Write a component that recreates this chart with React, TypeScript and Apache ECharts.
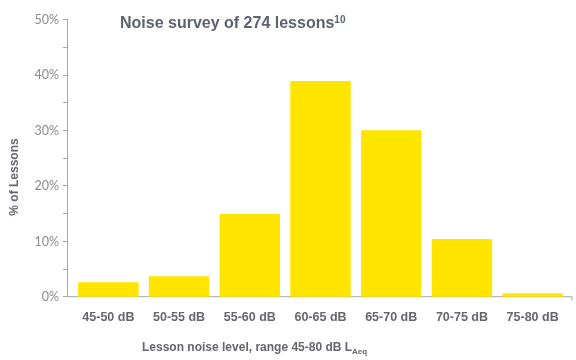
import React, { useEffect, useRef } from "react";
import * as echarts from "echarts";

const categories = ["45-50 dB", "50-55 dB", "55-60 dB", "60-65 dB", "65-70 dB", "70-75 dB", "75-80 dB"];
const percentLessons = [2.6, 3.7, 14.9, 38.9, 30.0, 10.4, 0.6];
const yTicks = [0, 10, 20, 30, 40, 50];

export default function App() {
  const ref = useRef<HTMLDivElement>(null);
  useEffect(() => {
    if (!ref.current) return;
    const chart = echarts.init(ref.current, null, { renderer: "svg" });
    const axisGrey = "#a8a8a8";
    const textGrey = "#65666e";
    chart.setOption({
      animation: false,
      title: {
        text: "{m|Noise survey of 274 lessons}{s|10}",
        left: 115,
        top: 9,
        textStyle: {
          rich: {
            m: { fontFamily: "Liberation Sans", fontWeight: "bold", fontSize: 16, color: "#5d6270", verticalAlign: "bottom" },
            s: { fontFamily: "Liberation Sans", fontWeight: "bold", fontSize: 10, color: "#5d6270", verticalAlign: "top", padding: [0, 0, 6, 0] },
          },
        },
      },
      grid: { left: 73, right: 8, top: 19.3, bottom: 63.3 },
      xAxis: {
        type: "category",
        data: categories,
        axisLine: { show: false },
        axisTick: { show: false },
        axisLabel: {
          margin: 14,
          fontFamily: "Liberation Sans",
          fontWeight: "bold",
          fontSize: 12.5,
          color: textGrey,
        },
      },
      yAxis: {
        type: "value",
        min: 0,
        max: 50,
        interval: 5,
        offset: 6,
        axisLine: { show: true, lineStyle: { color: axisGrey, width: 1 } },
        axisTick: { show: true, length: 4, lineStyle: { color: axisGrey } },
        splitLine: { show: false },
        axisLabel: {
          margin: 8,
          fontFamily: "Lato",
          fontSize: 12.5,
          color: "#8a8a8a",
          formatter: (v: number) => (yTicks.includes(v) ? v + "%" : ""),
        },
      },
      series: [
        {
          type: "bar",
          data: percentLessons,
          barCategoryGap: "14.5%",
          itemStyle: { color: "#FFE500" },
        },
      ],
      graphic: [
        {
          type: "line",
          shape: { x1: 67, y1: 296.7, x2: 572, y2: 296.7 },
          style: { stroke: axisGrey, lineWidth: 1 },
        },
        {
          type: "line",
          shape: { x1: 572, y1: 296.7, x2: 572, y2: 300.5 },
          style: { stroke: axisGrey, lineWidth: 1 },
        },
        {
          type: "text",
          x: 142,
          y: 348,
          style: {
            text: "{m|Lesson noise level, range 45-80 dB L}{s|Aeq}",
            verticalAlign: "middle",
            rich: {
              m: { fontFamily: "Liberation Sans", fontWeight: "bold", fontSize: 12, fill: textGrey, verticalAlign: "top" },
              s: { fontFamily: "Liberation Sans", fontWeight: "bold", fontSize: 8, fill: textGrey, verticalAlign: "bottom", padding: [7, 0, 0, 0] },
            },
          },
        },
        {
          type: "text",
          x: 14,
          y: 177,
          rotation: Math.PI / 2,
          style: {
            text: "% of Lessons",
            align: "center",
            verticalAlign: "middle",
            fontFamily: "Liberation Sans",
            fontWeight: "bold",
            fontSize: 12,
            fill: textGrey,
          },
        },
      ],
    });
    return () => chart.dispose();
  }, []);
  return <div ref={ref} style={{ position: "fixed", left: 0, top: 0, width: 576, height: 360 }} />;
}
